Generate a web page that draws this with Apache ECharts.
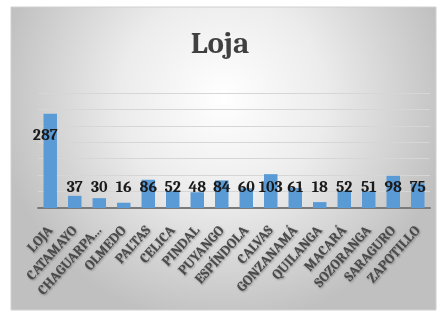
<!DOCTYPE html>
<html>
<head>
<meta charset="utf-8">
<script src="https://cdn.jsdelivr.net/npm/echarts@6/dist/echarts.min.js"></script>
<style>
  html, body { margin: 0; padding: 0; background: #fff; }
  #main { width: 440px; height: 316px; }
</style>
</head>
<body>
<div id="main"></div>
<script>
// datos del gráfico
var cantones = ['LOJA', 'CATAMAYO', 'CHAGUARPA...', 'OLMEDO', 'PALTAS', 'CELICA', 'PINDAL', 'PUYANGO',
    'ESPÍNDOLA', 'CALVAS', 'GONZANAMÁ', 'QUILANGA', 'MACARÁ', 'SOZORANGA', 'SARAGURO', 'ZAPOTILLO'];
var valores = [287, 37, 30, 16, 86, 52, 48, 84, 60, 103, 61, 18, 52, 51, 98, 75];
var yMax = 350;
var yPaso = 50;

var chart = document.getElementById('main');
var echart = echarts.init(chart);

var serif = 'Cambria, "Liberation Serif", "DejaVu Serif", serif';

// etiqueta del primer valor va arriba, las demás abajo
var barData = valores.map(function (v, i) {
    if (i === 0) {
        return {
            value: v,
            label: {position: 'insideTop', distance: 14, offset: [-5, 0]}
        };
    }
    return v;
});

var option = {
    animation: false,
    graphic: [
        {
            type: 'rect',
            shape: {x: 11, y: 7, width: 425, height: 303},
            style: {
                fill: {
                    type: 'radial', x: 0.5, y: 0.3, r: 0.75,
                    colorStops: [
                        {offset: 0, color: '#ffffff'},
                        {offset: 0.45, color: '#ececec'},
                        {offset: 1, color: '#c0c0c0'}
                    ]
                },
                stroke: '#d0d0d0',
                lineWidth: 1
            },
            z: -10
        }
    ],
    title: {
        text: 'Loja',
        left: 'center',
        top: 24,
        textStyle: {
            fontFamily: serif,
            fontSize: 31,
            fontWeight: 'bold',
            color: '#404040'
        }
    },
    grid: {
        left: 38,
        right: 10,
        top: 93,
        bottom: 108
    },
    xAxis: {
        type: 'category',
        data: cantones,
        axisTick: {show: false},
        axisLine: {lineStyle: {color: '#7a7a7a', width: 2}},
        axisLabel: {
            interval: 0,
            rotate: 48,
            margin: 20,
            fontFamily: serif,
            fontSize: 14,
            fontWeight: 'bold',
            color: '#4a4a4a',
            textShadowColor: 'rgba(0,0,0,0.35)',
            textShadowBlur: 2,
            textShadowOffsetX: 1,
            textShadowOffsetY: 1
        }
    },
    yAxis: {
        type: 'value',
        min: 0,
        max: yMax,
        interval: yPaso,
        axisLabel: {show: false},
        axisLine: {show: false},
        axisTick: {show: false},
        splitLine: {lineStyle: {color: '#d6d6d6', width: 1}}
    },
    series: [
        {
            type: 'bar',
            data: barData,
            barWidth: '55%',
            itemStyle: {color: '#5b9bd5'},
            label: {
                show: true,
                position: 'insideBottom',
                distance: 13,
                fontFamily: serif,
                fontSize: 16,
                fontWeight: 'bold',
                color: '#1a1a1a'
            }
        }
    ]
};
echart.setOption(option);
</script>
</body>
</html>
